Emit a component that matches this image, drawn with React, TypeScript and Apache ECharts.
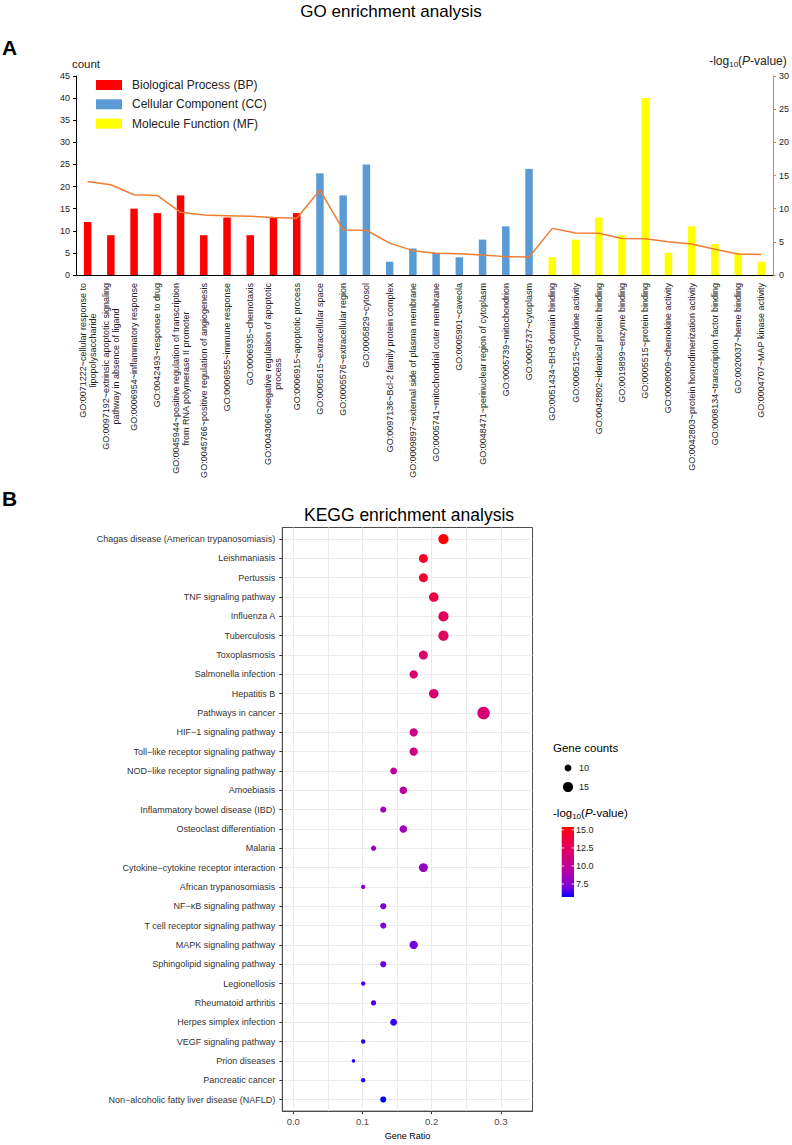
import React, { useEffect, useRef } from "react";
import * as echarts from "echarts";

const FONT = "'Liberation Sans', Arial, Helvetica, sans-serif";

// ---------- GO enrichment (panel A) ----------
const goTerms = [
  "GO:0071222~cellular response to\nlipopolysaccharide",
  "GO:0097192~extrinsic apoptotic signaling\npathway in absence of ligand",
  "GO:0006954~inflammatory response",
  "GO:0042493~response to drug",
  "GO:0045944~positive regulation of transcription\nfrom RNA polymerase II promoter",
  "GO:0045766~positive regulation of angiogenesis",
  "GO:0006955~immune response",
  "GO:0006935~chemotaxis",
  "GO:0043066~negative regulation of apoptotic\nprocess",
  "GO:0006915~apoptotic process",
  "GO:0005615~extracellular space",
  "GO:0005576~extracellular region",
  "GO:0005829~cytosol",
  "GO:0097136~Bcl-2 family protein complex",
  "GO:0009897~external side of plasma membrane",
  "GO:0005741~mitochondrial outer membrane",
  "GO:0005901~caveola",
  "GO:0048471~perinuclear region of cytoplasm",
  "GO:0005739~mitochondrion",
  "GO:0005737~cytoplasm",
  "GO:0051434~BH3 domain binding",
  "GO:0005125~cytokine activity",
  "GO:0042802~identical protein binding",
  "GO:0019899~enzyme binding",
  "GO:0005515~protein binding",
  "GO:0008009~chemokine activity",
  "GO:0042803~protein homodimerization activity",
  "GO:0008134~transcription factor binding",
  "GO:0020037~heme binding",
  "GO:0004707~MAP kinase activity",
];
const goGroupNames = [
  "Biological Process (BP)",
  "Cellular Component (CC)",
  "Molecule Function (MF)",
];
const goGroupColors = ["#FF0000", "#5B9BD5", "#FFFF00"];
const bpCounts = [12, 9, 15, 14, 18, 9, 13, 9, 13, 14];
const ccCounts = [23, 18, 25, 3, 6, 5, 4, 8, 11, 24];
const mfCounts = [4, 8, 13, 9, 40, 5, 11, 7, 5, 3];
const goLogP = [
  14.1, 13.6, 12.1, 12.0, 9.45, 9.05, 8.95, 8.85, 8.65, 8.55,
  12.8, 6.8, 6.75, 4.8, 3.67, 3.27, 3.2, 3.0, 2.77, 2.7,
  7.03, 6.33, 6.3, 5.5, 5.45, 5.03, 4.68, 3.87, 3.17, 3.1,
];
const countAxis = { min: 0, max: 45, step: 5 };
const logPAxis = { min: 0, max: 30, step: 5 };

// ---------- KEGG enrichment (panel B) ----------
const keggTerms = [
  "Chagas disease (American trypanosomiasis)",
  "Leishmaniasis",
  "Pertussis",
  "TNF signaling pathway",
  "Influenza A",
  "Tuberculosis",
  "Toxoplasmosis",
  "Salmonella infection",
  "Hepatitis B",
  "Pathways in cancer",
  "HIF\u22121 signaling pathway",
  "Toll\u2212like receptor signaling pathway",
  "NOD\u2212like receptor signaling pathway",
  "Amoebiasis",
  "Inflammatory bowel disease (IBD)",
  "Osteoclast differentiation",
  "Malaria",
  "Cytokine\u2212cytokine receptor interaction",
  "African trypanosomiasis",
  "NF\u2212\u03baB signaling pathway",
  "T cell receptor signaling pathway",
  "MAPK signaling pathway",
  "Sphingolipid signaling pathway",
  "Legionellosis",
  "Rheumatoid arthritis",
  "Herpes simplex infection",
  "VEGF signaling pathway",
  "Prion diseases",
  "Pancreatic cancer",
  "Non\u2212alcoholic fatty liver disease (NAFLD)",
];
const keggRatio = [
  0.217, 0.188, 0.188, 0.203, 0.217, 0.217, 0.188, 0.174, 0.203, 0.275,
  0.174, 0.174, 0.145, 0.159, 0.13, 0.159, 0.116, 0.188, 0.101, 0.13,
  0.13, 0.174, 0.13, 0.101, 0.116, 0.145, 0.101, 0.087, 0.101, 0.13,
];
const keggCounts = [
  15, 13, 13, 14, 15, 15, 13, 12, 14, 19,
  12, 12, 10, 11, 9, 11, 8, 13, 7, 9,
  9, 12, 9, 7, 8, 10, 7, 6, 7, 9,
];
const keggLogP = [
  15.4, 14.4, 14.2, 13.6, 12.5, 12.3, 12.0, 11.7, 11.6, 11.5,
  10.8, 10.7, 9.8, 9.6, 8.5, 8.4, 8.1, 8.0, 7.5, 7.4,
  7.25, 7.0, 6.8, 6.5, 6.5, 6.3, 6.2, 6.0, 5.9, 5.7,
];
const ratioTicks = [0, 0.1, 0.2, 0.3];
const ratioRange = { min: -0.0159, max: 0.3457 };
const sizeLegendCounts = [10, 15];
const colorbarTicks = [15.0, 12.5, 10.0, 7.5];
const gradientColors = [
  "#0000FF", "#7300E0", "#9A00C2", "#B500A5", "#C80088",
  "#DA006D", "#E8004F", "#F40031", "#FF0000",
];

const dotSize = (c: number) => Math.max(3, -8 + 4.7 * Math.sqrt(c));

export default function App() {
  const ref = useRef<HTMLDivElement>(null);

  useEffect(() => {
    if (!ref.current) return;
    const chart = echarts.init(ref.current, null, { renderer: "svg" });

    const groupCounts = [bpCounts, ccCounts, mfCounts];
    const barSeries = goGroupNames.map((name, g) => ({
      name,
      type: "bar",
      xAxisIndex: 0,
      yAxisIndex: 0,
      barWidth: 7.5,
      barGap: "-100%",
      itemStyle: { color: goGroupColors[g] },
      data: goTerms.map((_, i) =>
        Math.floor(i / 10) === g ? groupCounts[g][i % 10] : "-"
      ),
    }));

    const cbMin = Math.min(...keggLogP);
    const cbMax = Math.max(...keggLogP);

    // panel B layout
    const kLeft = 282.3, kTop = 527.5, kWidth = 250.2, kHeight = 593.6;

    // legend positions
    const legX = 553;
    const sizeTitleY = 748;
    const sizeRowY = [768, 787];
    const cbX = 561.7, cbY = 827, cbW = 12.3, cbH = 70;
    const cbTitleY = 813;
    const cbPos = (v: number) => cbY + ((cbMax - v) / (cbMax - cbMin)) * cbH;

    const graphics: any[] = [
      {
        type: "text", x: 2, y: 47,
        style: { text: "A", font: `bold 21px ${FONT}`, fill: "#000", textVerticalAlign: "middle", verticalAlign: "middle" },
      },
      {
        type: "text", x: 2, y: 498,
        style: { text: "B", font: `bold 21px ${FONT}`, fill: "#000", textVerticalAlign: "middle", verticalAlign: "middle" },
      },
      {
        type: "text", x: 391, y: 11,
        style: { text: "GO enrichment analysis", font: `17px ${FONT}`, fill: "#000", textAlign: "center", align: "center", textVerticalAlign: "middle", verticalAlign: "middle" },
      },
      {
        type: "text", x: 409, y: 515,
        style: { text: "KEGG enrichment analysis", font: `17.5px ${FONT}`, fill: "#000", textAlign: "center", align: "center", textVerticalAlign: "middle", verticalAlign: "middle" },
      },
      {
        type: "text", x: legX, y: sizeTitleY,
        style: { text: "Gene counts", font: `11.5px ${FONT}`, fill: "#000", textVerticalAlign: "middle", verticalAlign: "middle" },
      },
      {
        type: "text", x: legX, y: cbTitleY,
        style: {
          text: "{a|-log}{s|10}{a|(}{i|P}{a|-value)}",
          textVerticalAlign: "middle", verticalAlign: "middle",
          rich: {
            a: { fontSize: 11.5, fontFamily: FONT, fill: "#000", color: "#000" },
            s: { fontSize: 8, fontFamily: FONT, fill: "#000", color: "#000", padding: [6, 0, 0, 0] },
            i: { fontSize: 11.5, fontFamily: FONT, fontStyle: "italic", fill: "#000", color: "#000" },
          },
        },
      },
      {
        type: "rect",
        shape: { x: cbX, y: cbY, width: cbW, height: cbH },
        style: {
          fill: new echarts.graphic.LinearGradient(
            0, 0, 0, 1,
            gradientColors
              .slice()
              .reverse()
              .map((c, i) => ({ offset: i / (gradientColors.length - 1), color: c }))
          ),
        },
      },
    ];
    sizeLegendCounts.forEach((c, i) => {
      graphics.push({
        type: "circle",
        shape: { cx: legX + 15, cy: sizeRowY[i], r: dotSize(c) / 2 },
        style: { fill: "#000" },
      });
      graphics.push({
        type: "text", x: legX + 26, y: sizeRowY[i],
        style: { text: String(c), font: `9px ${FONT}`, fill: "#222", textVerticalAlign: "middle", verticalAlign: "middle" },
      });
    });
    colorbarTicks.forEach((v) => {
      const y = cbPos(v);
      graphics.push({ type: "line", shape: { x1: cbX, y1: y, x2: cbX + 2.5, y2: y }, style: { stroke: "#fff", lineWidth: 0.8 } });
      graphics.push({ type: "line", shape: { x1: cbX + cbW - 2.5, y1: y, x2: cbX + cbW, y2: y }, style: { stroke: "#fff", lineWidth: 0.8 } });
      graphics.push({
        type: "text", x: cbX + cbW + 2, y,
        style: { text: v.toFixed(1), font: `9px ${FONT}`, fill: "#222", textVerticalAlign: "middle", verticalAlign: "middle" },
      });
    });

    const option: any = {
      animation: false,
      textStyle: { fontFamily: FONT },
      grid: [
        { left: 76, top: 76, width: 699, height: 199 },
        { left: kLeft, top: kTop, width: kWidth, height: kHeight, show: true, borderColor: "#4d4d4d", borderWidth: 1, backgroundColor: "#fff" },
      ],
      legend: {
        data: goGroupNames,
        orient: "vertical",
        left: 91,
        top: 73,
        itemWidth: 26,
        itemHeight: 10,
        itemGap: 5.3,
        icon: "rect",
        textStyle: { fontSize: 12, color: "#222", lineHeight: 14, padding: [0, 0, 0, 5] },
      },
      xAxis: [
        {
          type: "category",
          gridIndex: 0,
          data: goTerms,
          axisLine: { show: true, lineStyle: { color: "#000", width: 1 } },
          axisTick: { show: false },
          splitLine: { show: false },
          axisLabel: {
            interval: 0,
            rotate: 90,
            margin: 8,
            fontSize: 9,
            color: "#222",
            lineHeight: 10,
            formatter: (v: string) => v.split("\n").map((s) => `{c|${s}}`).join("\n"),
            rich: { c: { align: "center", fontSize: 9, lineHeight: 10, color: "#222" } },
          },
        },
        {
          type: "value",
          gridIndex: 1,
          min: ratioRange.min,
          max: ratioRange.max,
          splitNumber: 7,
          minInterval: 0.05,
          maxInterval: 0.05,
          axisLine: { show: true, onZero: false, lineStyle: { color: "#4d4d4d", width: 1 } },
          axisTick: { show: false },
          axisLabel: { show: false },
          splitLine: { show: true, showMinLine: false, showMaxLine: false, lineStyle: { color: "#EBEBEB", width: 1 } },
        },
        {
          type: "value",
          gridIndex: 1,
          position: "bottom",
          min: ratioRange.min,
          max: ratioRange.max,
          splitNumber: 4,
          minInterval: 0.1,
          maxInterval: 0.1,
          axisLine: { show: false, onZero: false },
          axisTick: { show: true, length: 3, customValues: ratioTicks, lineStyle: { color: "#333" } },
          axisLabel: {
            customValues: ratioTicks,
            margin: 5,
            fontSize: 9.5,
            color: "#4d4d4d",
            formatter: (v: number) => (ratioTicks.some((t) => Math.abs(t - v) < 1e-6) ? v.toFixed(1) : ""),
          },
          splitLine: { show: false },
          name: "Gene Ratio",
          nameLocation: "middle",
          nameGap: 14,
          nameTextStyle: { fontSize: 9, color: "#000" },
        },
      ],
      yAxis: [
        {
          type: "value",
          gridIndex: 0,
          position: "left",
          min: countAxis.min,
          max: countAxis.max,
          interval: countAxis.step,
          name: "count",
          nameLocation: "end",
          nameGap: 6,
          nameTextStyle: { fontSize: 11.5, color: "#222", padding: [0, 0, 0, 20] },
          axisLine: { show: true, lineStyle: { color: "#000", width: 1 } },
          axisTick: { show: true, length: 3, lineStyle: { color: "#000" } },
          axisLabel: { fontSize: 9, color: "#222", margin: 6 },
          splitLine: { show: false },
        },
        {
          type: "value",
          gridIndex: 0,
          position: "right",
          min: logPAxis.min,
          max: logPAxis.max,
          interval: logPAxis.step,
          name: "{a|-log}{s|10}{a|(}{i|P}{a|-value)}",
          nameLocation: "end",
          nameGap: 8,
          nameTextStyle: {
            padding: [0, 50, 0, 0],
            rich: {
              a: { fontSize: 12, color: "#222" },
              s: { fontSize: 8, color: "#222", padding: [6, 0, 0, 0] },
              i: { fontSize: 12, color: "#222", fontStyle: "italic" },
            },
          },
          axisLine: { show: true, lineStyle: { color: "#ED7D31", width: 1 } },
          axisTick: { show: true, length: 3, lineStyle: { color: "#ED7D31" } },
          axisLabel: { fontSize: 9, color: "#222", margin: 6 },
          splitLine: { show: false },
        },
        {
          type: "value",
          gridIndex: 1,
          inverse: true,
          min: -0.6,
          max: keggTerms.length - 0.4,
          splitNumber: keggTerms.length,
          minInterval: 1,
          maxInterval: 1,
          axisLine: { show: true, onZero: false, lineStyle: { color: "#4d4d4d", width: 1 } },
          axisTick: { show: true, length: 3, lineStyle: { color: "#333" } },
          axisLabel: {
            fontSize: 9,
            color: "#333",
            margin: 7,
            showMinLabel: false,
            showMaxLabel: false,
            formatter: (v: number) => {
              const i = Math.round(v);
              return Math.abs(v - i) < 1e-6 && i >= 0 && i < keggTerms.length ? keggTerms[i] : "";
            },
          },
          splitLine: { show: true, showMinLine: false, showMaxLine: false, lineStyle: { color: "#EBEBEB", width: 1 } },
        },
      ],
      visualMap: [
        {
          show: false,
          type: "continuous",
          seriesIndex: 4,
          dimension: 2,
          min: cbMin,
          max: cbMax,
          inRange: { color: gradientColors },
        },
      ],
      series: [
        ...barSeries,
        {
          name: "-log10(P-value)",
          type: "line",
          xAxisIndex: 0,
          yAxisIndex: 1,
          data: goLogP,
          symbol: "none",
          lineStyle: { color: "#ED7D31", width: 1.5 },
          itemStyle: { color: "#ED7D31" },
          z: 5,
        },
        {
          name: "KEGG",
          type: "scatter",
          xAxisIndex: 1,
          yAxisIndex: 2,
          data: keggTerms.map((_, i) => [keggRatio[i], i, keggLogP[i], keggCounts[i]]),
          symbolSize: (v: number[]) => dotSize(v[3]),
          itemStyle: { opacity: 1 },
          z: 4,
        },
      ],
      graphic: graphics,
    };

    chart.setOption(option);
    return () => chart.dispose();
  }, []);

  return (
    <div
      ref={ref}
      style={{ position: "absolute", left: 0, top: 0, width: 792, height: 1145, background: "#fff" }}
    />
  );
}
